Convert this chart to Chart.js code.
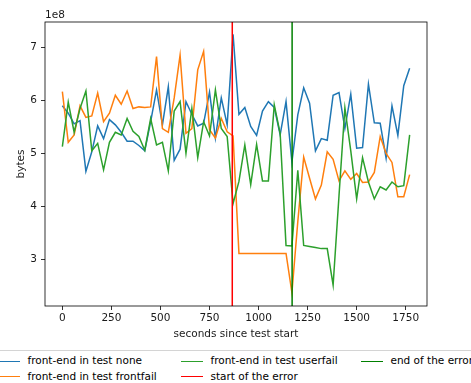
<!DOCTYPE html>
<html>
<head>
<meta charset="utf-8">
<script src="https://cdn.jsdelivr.net/npm/chart.js@4.4.1/dist/chart.umd.min.js"></script>
<style>
    html, body { margin: 0; padding: 0; background: #fff; }
    #wrap { position: relative; width: 471px; height: 383px; overflow: hidden; }
    #legend {
        position: absolute; left: -8px; top: 350px; width: 520px; height: 50px;
        border: 1px solid #d4d4d4; border-radius: 3px; background: #fff;
        font-family: "DejaVu Sans", sans-serif; font-size: 10.5px; color: #000;
    }
    .item { position: absolute; white-space: nowrap; height: 14px; line-height: 14px; }
    .swatch { display: inline-block; width: 22px; height: 0; border-top: 1.5px solid; vertical-align: middle; margin-right: 7.5px; }
</style>
</head>
<body>
<div id="wrap">
    <canvas id="memChart" width="471" height="383"></canvas>
    <div id="legend"></div>
</div>
<script>
// --- Data ---
const seconds = [
    0, 30, 60, 90, 120, 150, 180, 210, 240, 270, 300, 330, 360, 390, 420, 450, 480, 510, 540, 570,
    600, 630, 660, 690, 720, 750, 780, 810, 840, 870, 900, 930, 960, 990, 1020, 1050, 1080, 1110, 1140, 1170,
    1200, 1230, 1260, 1290, 1320, 1350, 1380, 1410, 1440, 1470, 1500, 1530, 1560, 1590, 1620, 1650, 1680, 1710, 1740, 1770
];

const bytesNone = [
    5.90e8, 5.76e8, 5.56e8, 5.62e8, 4.66e8, 5.03e8, 5.52e8, 5.28e8, 5.64e8, 5.54e8,
    5.40e8, 5.23e8, 5.23e8, 5.15e8, 5.05e8, 5.60e8, 6.20e8, 5.54e8, 6.26e8, 4.87e8,
    5.08e8, 5.98e8, 5.74e8, 5.52e8, 5.57e8, 6.16e8, 5.29e8, 6.05e8, 5.54e8, 7.25e8,
    5.74e8, 5.87e8, 5.51e8, 5.34e8, 5.80e8, 5.98e8, 5.87e8, 5.35e8, 5.98e8, 4.84e8,
    5.73e8, 6.24e8, 5.95e8, 5.05e8, 5.28e8, 5.25e8, 6.10e8, 6.15e8, 5.47e8, 6.12e8,
    5.10e8, 5.11e8, 6.31e8, 5.58e8, 5.57e8, 4.91e8, 5.90e8, 5.34e8, 6.28e8, 6.61e8
];

const bytesFrontfail = [
    6.17e8, 5.21e8, 5.35e8, 5.90e8, 5.68e8, 5.71e8, 6.14e8, 5.60e8, 5.76e8, 6.10e8,
    5.93e8, 6.18e8, 5.85e8, 5.88e8, 5.87e8, 5.88e8, 6.83e8, 5.47e8, 5.40e8, 6.05e8,
    6.86e8, 5.38e8, 5.47e8, 6.58e8, 6.93e8, 5.45e8, 5.29e8, 5.66e8, 5.41e8, 5.33e8,
    3.11e8, 3.11e8, 3.11e8, 3.11e8, 3.11e8, 3.11e8, 3.11e8, 3.11e8, 3.11e8, 2.37e8,
    3.71e8, 4.93e8, 4.53e8, 4.14e8, 4.40e8, 5.03e8, 4.89e8, 4.48e8, 4.67e8, 4.51e8,
    4.62e8, 4.45e8, 4.46e8, 4.64e8, 5.32e8, 5.00e8, 4.83e8, 4.18e8, 4.18e8, 4.60e8
];

const bytesUserfail = [
    5.13e8, 5.97e8, 5.40e8, 5.85e8, 6.18e8, 5.05e8, 5.19e8, 4.69e8, 5.21e8, 5.40e8,
    5.35e8, 5.66e8, 5.42e8, 5.32e8, 5.06e8, 5.66e8, 5.16e8, 5.21e8, 4.67e8, 5.80e8,
    5.98e8, 5.00e8, 5.85e8, 4.92e8, 5.60e8, 5.33e8, 6.20e8, 5.47e8, 5.32e8, 4.05e8,
    4.47e8, 5.16e8, 4.41e8, 5.17e8, 4.48e8, 4.48e8, 5.92e8, 5.38e8, 3.26e8, 3.25e8,
    4.68e8, 3.26e8, 3.24e8, 3.22e8, 3.20e8, 3.20e8, 2.51e8, 4.20e8, 5.86e8, 5.05e8,
    4.14e8, 4.92e8, 4.46e8, 4.14e8, 4.37e8, 4.31e8, 4.46e8, 4.37e8, 4.39e8, 5.35e8
];

const errorStart = 866;
const errorEnd = 1171;

const xTicks = [0, 250, 500, 750, 1000, 1250, 1500, 1750];
const yTicks = [3e8, 4e8, 5e8, 6e8, 7e8];

const X_MIN = -88.5, X_MAX = 1858.5;
const Y_MIN = 2.115e8, Y_MAX = 7.485e8;

const FONT = "'DejaVu Sans', sans-serif";

function toPoints(xs, ys) {
    return xs.map((x, i) => ({ x: x, y: ys[i] }));
}

function vline(x) {
    return [{ x: x, y: Y_MIN }, { x: x, y: Y_MAX }];
}

// legend order as in the figure (filled column by column)
const datasets = [
    { label: 'front-end in test none', data: toPoints(seconds, bytesNone), borderColor: '#1f77b4', order: 4 },
    { label: 'front-end in test frontfail', data: toPoints(seconds, bytesFrontfail), borderColor: '#ff7f0e', order: 3 },
    { label: 'front-end in test userfail', data: toPoints(seconds, bytesUserfail), borderColor: '#2ca02c', order: 2 },
    { label: 'start of the error', data: vline(errorStart), borderColor: '#ff0000', order: 1 },
    { label: 'end of the error', data: vline(errorEnd), borderColor: '#008000', order: 0 }
];
datasets.forEach(ds => {
    ds.borderWidth = 1.5;
    ds.pointRadius = 0;
    ds.tension = 0;
    ds.fill = false;
});

// --- Spines and offset text ---
const frame = {
    id: 'frame',
    afterDraw(chart) {
        const { ctx, chartArea: a } = chart;
        ctx.save();
        ctx.strokeStyle = '#000';
        ctx.lineWidth = 0.8;
        ctx.strokeRect(a.left, a.top, a.right - a.left, a.bottom - a.top);
        ctx.fillStyle = '#1a1a1a';
        ctx.font = '10.5px ' + FONT;
        ctx.textAlign = 'left';
        ctx.textBaseline = 'middle';
        ctx.fillText('1e8', a.left, 15.5);
        ctx.restore();
    }
};

const tickStyle = { color: '#1a1a1a', font: { family: FONT, size: 10.5 } };

new Chart(document.getElementById('memChart'), {
    type: 'line',
    data: { datasets: datasets },
    options: {
        responsive: false,
        animation: false,
        devicePixelRatio: 1,
        layout: { padding: { left: 0, right: 44, top: 22, bottom: 0 } },
        plugins: { legend: { display: false }, tooltip: { enabled: false } },
        scales: {
            x: {
                type: 'linear',
                min: X_MIN,
                max: X_MAX,
                afterBuildTicks: s => { s.ticks = xTicks.map(v => ({ value: v })); },
                afterFit: s => { s.height = 77; },
                border: { display: false },
                grid: { drawOnChartArea: false, tickLength: 4, tickColor: '#000', tickWidth: 0.8 },
                ticks: Object.assign({ padding: 2, maxRotation: 0, callback: v => String(v) }, tickStyle),
                title: {
                    display: true, text: 'seconds since test start', color: '#1a1a1a',
                    font: { family: FONT, size: 10.5 }, padding: { top: 0, bottom: 42.7 }
                }
            },
            y: {
                min: Y_MIN,
                max: Y_MAX,
                afterBuildTicks: s => { s.ticks = yTicks.map(v => ({ value: v })); },
                afterFit: s => { s.width = 45; },
                border: { display: false },
                grid: { drawOnChartArea: false, tickLength: 4, tickColor: '#000', tickWidth: 0.8 },
                ticks: Object.assign({ padding: 4, callback: v => String(Math.round(v / 1e8)) }, tickStyle),
                title: {
                    display: true, text: 'bytes', color: '#1a1a1a',
                    font: { family: FONT, size: 10.5 }, padding: { top: 14.7, bottom: 0 }
                }
            }
        }
    },
    plugins: [frame]
});

// --- Legend: 3 columns, filled top to bottom ---
const legend = document.getElementById('legend');
const colLeft = [5, 188, 368];
const rowTop = [2, 17.7];
datasets.forEach((ds, k) => {
    const item = document.createElement('div');
    item.className = 'item';
    item.style.left = colLeft[Math.floor(k / 2)] + 'px';
    item.style.top = rowTop[k % 2] + 'px';
    const sw = document.createElement('span');
    sw.className = 'swatch';
    sw.style.borderTopColor = ds.borderColor;
    item.appendChild(sw);
    item.appendChild(document.createTextNode(ds.label));
    legend.appendChild(item);
});
</script>
</body>
</html>
